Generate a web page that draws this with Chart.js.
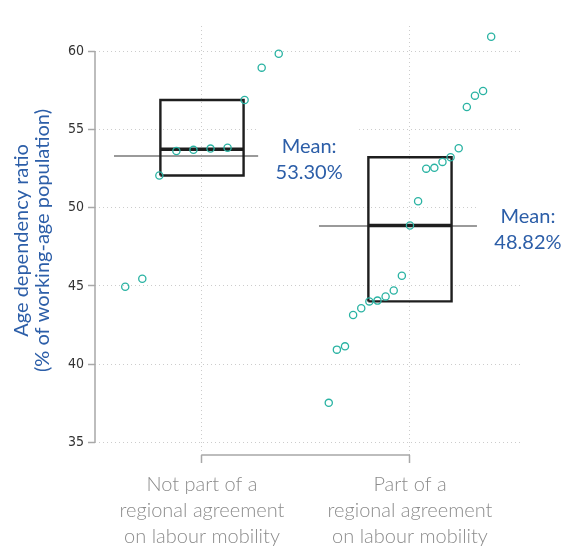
<!DOCTYPE html>
<html>
<head>
<meta charset="utf-8">
<script src="https://cdn.jsdelivr.net/npm/chart.js@4.4.1/dist/chart.umd.min.js"></script>
<style>
  html, body { margin: 0; padding: 0; background: #ffffff; }
  #wrap { width: 563px; height: 548px; }
</style>
</head>
<body>
<div id="wrap"><canvas id="chart" width="563" height="548"></canvas></div>
<script>
// Group labels on the x axis (one array of lines per group)
const groupLabels = [
  ['Not part of a', 'regional agreement', 'on labour mobility'],
  ['Part of a', 'regional agreement', 'on labour mobility']
];
// Age dependency ratio per country, by group
const notPartValues = [44.95, 45.46, 52.05, 53.62, 53.69, 53.77, 53.83, 56.87, 58.94, 59.83];
const partValues = [37.53, 40.93, 41.14, 43.14, 43.57, 44.01, 44.06, 44.33, 44.71, 45.65,
                    48.86, 50.41, 52.49, 52.54, 52.92, 53.22, 53.79, 56.43, 57.15, 57.45, 60.91];
const yTickValues = [35, 40, 45, 50, 55, 60];

const groups = [notPartValues, partValues];

const TEAL = '#2ab3a3';
const BLUE = '#2c5ea8';
const BOX_HALF = 0.2;        // half width of a box, in x units
const SPREAD = 0.82;         // horizontal width used to spread a group's points
// extent of each group's mean line, in x units from the group centre
const MEAN_EXTENT = [[-0.423, 0.27], [-0.4375, 0.322]];

function median(s) {
  const n = s.length, m = Math.floor(n / 2);
  return n % 2 ? s[m] : (s[m - 1] + s[m]) / 2;
}
function boxStats(vals) {
  const s = [...vals].sort((a, b) => a - b);
  const n = s.length, h = Math.ceil(n / 2);
  const mean = s.reduce((a, b) => a + b, 0) / n;
  return { sorted: s, q1: median(s.slice(0, h)), med: median(s), q3: median(s.slice(n - h)), mean };
}

const stats = groups.map(boxStats);
const datasets = [];

stats.forEach((st, g) => {
  const cx = g + 1;
  const n = st.sorted.length;
  // countries, spread sideways by rank
  datasets.push({
    data: st.sorted.map((v, i) => ({ x: cx + (i - (n - 1) / 2) * SPREAD / n, y: v })),
    pointRadius: 3.6, pointHoverRadius: 3.6,
    pointBorderColor: TEAL, pointBackgroundColor: 'rgba(255,255,255,0)',
    pointBorderWidth: 1.3, showLine: false, order: 0
  });
  // box from lower to upper hinge
  datasets.push({
    data: [
      { x: cx - BOX_HALF, y: st.q1 }, { x: cx + BOX_HALF, y: st.q1 },
      { x: cx + BOX_HALF, y: st.q3 }, { x: cx - BOX_HALF, y: st.q3 },
      { x: cx - BOX_HALF, y: st.q1 }
    ],
    showLine: true, borderColor: '#1e1e1e', borderWidth: 2.4,
    borderJoinStyle: 'miter', pointRadius: 0, fill: false, order: 1
  });
  // median
  datasets.push({
    data: [{ x: cx - BOX_HALF, y: st.med }, { x: cx + BOX_HALF, y: st.med }],
    showLine: true, borderColor: '#1e1e1e', borderWidth: 3.4,
    pointRadius: 0, fill: false, order: 1
  });
  // mean
  datasets.push({
    data: [{ x: cx + MEAN_EXTENT[g][0], y: st.mean }, { x: cx + MEAN_EXTENT[g][1], y: st.mean }],
    showLine: true, borderColor: '#9a9a9a', borderWidth: 2,
    pointRadius: 0, fill: false, order: 2
  });
});

// Axis lines drawn only over the data range (35–60, group 1–2)
const rangeFrame = {
  id: 'rangeFrame',
  beforeDatasetsDraw(chart) {
    const { ctx, chartArea, scales: { x, y } } = chart;
    ctx.save();
    ctx.strokeStyle = '#a8a8a8';
    ctx.lineWidth = 1.5;
    ctx.beginPath();
    ctx.moveTo(chartArea.left, y.getPixelForValue(yTickValues[yTickValues.length - 1]));
    ctx.lineTo(chartArea.left, y.getPixelForValue(yTickValues[0]));
    ctx.moveTo(x.getPixelForValue(1), chartArea.bottom);
    ctx.lineTo(x.getPixelForValue(2), chartArea.bottom);
    ctx.stroke();
    ctx.restore();
  }
};

// "Mean:" labels to the right of each mean line, on a white patch
const meanLabels = {
  id: 'meanLabels',
  beforeDatasetsDraw(chart) {
    const { ctx, scales: { x, y } } = chart;
    ctx.save();
    stats.forEach((st, g) => {
      const end = x.getPixelForValue(g + 1 + MEAN_EXTENT[g][1]);
      const cx = end + 51;
      const my = y.getPixelForValue(st.mean);
      ctx.fillStyle = '#ffffff';
      ctx.fillRect(end - 1, my - 30, cx + 50 - (end - 1), 65);
      ctx.fillStyle = BLUE;
      ctx.font = '20px Lato, "Open Sans", sans-serif';
      ctx.textAlign = 'center';
      ctx.textBaseline = 'alphabetic';
      ctx.fillText('Mean:', cx, my - 3);
      ctx.fillText(st.mean.toFixed(2) + '%', cx, my + 23);
    });
    ctx.restore();
  }
};

new Chart(document.getElementById('chart'), {
  type: 'scatter',
  data: { datasets },
  options: {
    responsive: false,
    animation: false,
    devicePixelRatio: 1,
    layout: { padding: { top: 26, right: 43, bottom: 0, left: 0 } },
    plugins: { legend: { display: false }, tooltip: { enabled: false } },
    scales: {
      x: {
        type: 'linear', min: 0.4856, max: 2.529,
        afterBuildTicks: s => { s.ticks = [1, 2].map(v => ({ value: v })); },
        afterFit: s => { s.height = 93; },
        grid: { color: '#cccccc', lineWidth: 1, tickLength: 8, tickColor: '#a8a8a8', tickWidth: 1.5, tickBorderDash: [] },
        border: { display: false, dash: [1, 3] },
        ticks: {
          autoSkip: false, maxRotation: 0, padding: 9, color: '#8c8c8c',
          font: { family: 'Lato, "Open Sans", sans-serif', size: 20, weight: 300, lineHeight: 1.3 },
          callback: v => groupLabels[Math.round(v) - 1]
        }
      },
      y: {
        type: 'linear', min: 34.2, max: 61.6,
        afterBuildTicks: s => { s.ticks = yTickValues.map(v => ({ value: v })); },
        afterFit: s => { s.width = 95; },
        grid: { color: '#cccccc', lineWidth: 1, tickLength: 7, tickColor: '#a8a8a8', tickWidth: 1.5, tickBorderDash: [] },
        border: { display: false, dash: [1, 3] },
        ticks: {
          padding: 4, color: '#333333',
          font: { family: '"Liberation Sans Narrow", "Arial Narrow", "DejaVu Sans Condensed", sans-serif', size: 14 }
        },
        title: {
          display: true,
          text: ['Age dependency ratio', '(% of working-age population)'],
          color: BLUE,
          font: { family: 'Lato, "Open Sans", sans-serif', size: 20, lineHeight: 1.05 },
          padding: { top: 11.5, bottom: 0 }
        }
      }
    }
  },
  plugins: [rangeFrame, meanLabels]
});
</script>
</body>
</html>
